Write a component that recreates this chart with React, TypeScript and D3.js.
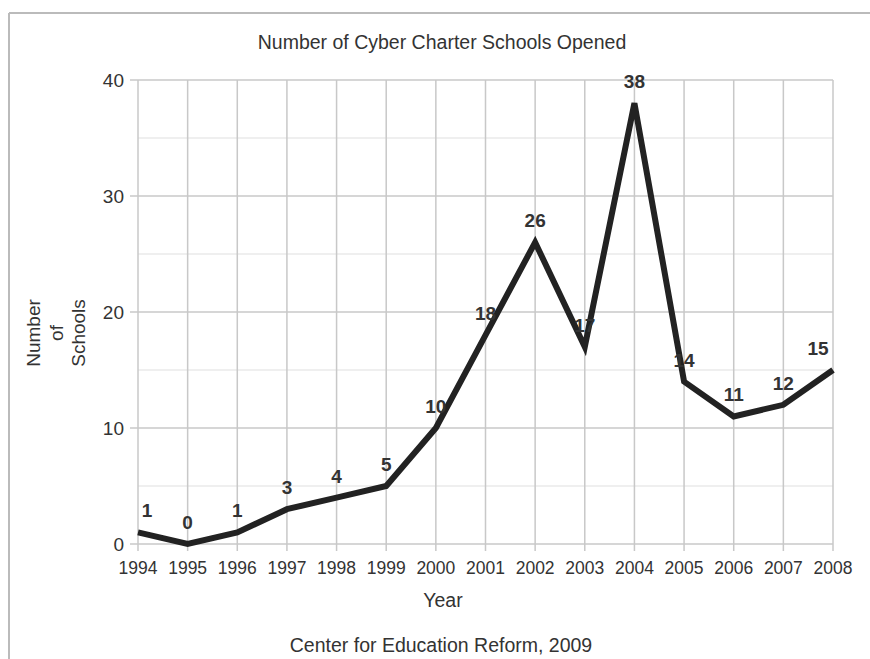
import { useEffect, useRef } from "react"
import * as d3 from "d3"

const years = [1994, 1995, 1996, 1997, 1998, 1999, 2000, 2001, 2002, 2003, 2004, 2005, 2006, 2007, 2008]
const schoolsOpened = [1, 0, 1, 3, 4, 5, 10, 18, 26, 17, 38, 14, 11, 12, 15]
const yMajorTicks = [0, 10, 20, 30, 40]
const yMinorTicks = [5, 15, 25, 35]

const width = 870
const height = 659

export default function App() {
  const svgRef = useRef<SVGSVGElement>(null)

  useEffect(() => {
    const svg = d3.select(svgRef.current)
    svg.selectAll("*").remove()

    const x = d3.scaleLinear().domain([1994, 2008]).range([138, 833])
    const y = d3.scaleLinear().domain([0, 40]).range([544, 80])
    const font = "'Liberation Sans', Arial, sans-serif"
    const ink = "#333"

    // Frame
    svg.append("line").attr("x1", 9).attr("x2", width).attr("y1", 13).attr("y2", 13)
      .attr("stroke", "#bbb").attr("stroke-width", 2)
    svg.append("line").attr("x1", 9).attr("x2", 9).attr("y1", 13).attr("y2", height)
      .attr("stroke", "#bbb").attr("stroke-width", 2)

    // Minor horizontal gridlines
    svg.append("g").selectAll("line").data(yMinorTicks).join("line")
      .attr("x1", x(1994)).attr("x2", x(2008))
      .attr("y1", (d) => y(d)).attr("y2", (d) => y(d))
      .attr("stroke", "#e0e0e0").attr("stroke-width", 1.2)

    // Major horizontal gridlines + tick marks
    svg.append("g").selectAll("line").data(yMajorTicks).join("line")
      .attr("x1", x(1994) - 8).attr("x2", x(2008))
      .attr("y1", (d) => y(d)).attr("y2", (d) => y(d))
      .attr("stroke", "#c8c8c8").attr("stroke-width", 1.5)

    // Vertical gridlines + ticks
    svg.append("g").selectAll("line").data(years).join("line")
      .attr("x1", (d) => x(d)).attr("x2", (d) => x(d))
      .attr("y1", y(40)).attr("y2", y(0) + 7)
      .attr("stroke", "#c8c8c8").attr("stroke-width", 1.5)

    // Y tick labels
    svg.append("g").selectAll("text").data(yMajorTicks).join("text")
      .attr("x", x(1994) - 14).attr("y", (d) => y(d)).attr("dy", "0.36em")
      .attr("text-anchor", "end").attr("font-family", font).attr("font-size", 19)
      .attr("fill", ink).text((d) => d)

    // X tick labels
    svg.append("g").selectAll("text").data(years).join("text")
      .attr("x", (d) => x(d)).attr("y", y(0) + 30)
      .attr("text-anchor", "middle").attr("font-family", font).attr("font-size", 17.5)
      .attr("fill", ink).text((d) => d)

    // Line
    const line = d3.line<number>()
      .x((_, i) => x(years[i]))
      .y((d) => y(d))
    svg.append("path").datum(schoolsOpened)
      .attr("d", line)
      .attr("fill", "none").attr("stroke", "#222").attr("stroke-width", 6)
      .attr("stroke-linejoin", "miter").attr("stroke-linecap", "butt")

    // Value labels
    svg.append("g").selectAll("text").data(schoolsOpened).join("text")
      .attr("x", (_, i) => x(years[i]) + (i === 0 ? 9 : i === years.length - 1 ? -15 : 0))
      .attr("y", (d) => y(d) - 15)
      .attr("text-anchor", "middle").attr("font-family", font).attr("font-size", 19)
      .attr("font-weight", "bold").attr("fill", ink).text((d) => d)

    // Title
    svg.append("text").attr("x", 442).attr("y", 49).attr("text-anchor", "middle")
      .attr("font-family", font).attr("font-size", 19.5).attr("fill", ink)
      .text("Number of Cyber Charter Schools Opened")

    // Axis titles
    svg.append("text").attr("x", 443).attr("y", 607).attr("text-anchor", "middle")
      .attr("font-family", font).attr("font-size", 19.5).attr("fill", ink).text("Year")

    const yTitle = svg.append("text").attr("transform", "translate(0,333) rotate(-90)")
      .attr("text-anchor", "middle").attr("font-family", font).attr("font-size", 19).attr("fill", ink)
    ;["Number", "of", "Schools"].forEach((t, i) => {
      yTitle.append("tspan").attr("x", 0).attr("y", 40 + i * 22.5).text(t)
    })

    // Source
    svg.append("text").attr("x", 441).attr("y", 652).attr("text-anchor", "middle")
      .attr("font-family", font).attr("font-size", 19.5).attr("fill", ink)
      .text("Center for Education Reform, 2009")
  }, [])

  return (
    <svg ref={svgRef} width={width} height={height}
      style={{ position: "absolute", left: 0, top: 0, background: "#fff" }} />
  )
}
